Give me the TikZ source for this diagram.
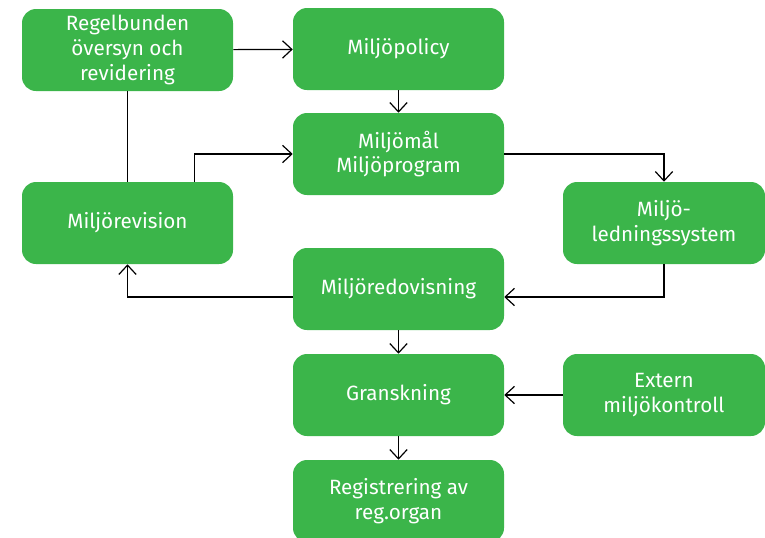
\documentclass[tikz,border=0pt]{standalone}
\usepackage{fontspec}
\setmainfont{Fira Sans}
\usetikzlibrary{arrows.meta}
\definecolor{groen}{HTML}{3BB54A}
\tikzset{
  blok/.style={fill=groen, text=white, rounded corners=10.5pt, minimum width=158.25pt,
    minimum height=61.5pt, align=center, inner sep=0pt, font=\fontsize{15.5}{18.5}\selectfont},
  pijl/.style={-{Straight Barb[length=7pt,width=13pt]}, line width=0.9pt}
}
\begin{document}
\begin{tikzpicture}[x=0.75pt,y=-0.75pt]
    \useasboundingbox (0,0) rectangle (765,537);
    % blokken
    \node[blok] (regel) at (127.5,50) {Regelbunden\\översyn och\\revidering};
    \node[blok] (policy) at (398.5,49) {Miljöpolicy};
    \node[blok] (maal) at (398.5,154) {Miljömål\\Miljöprogram};
    \node[blok] (revisie) at (127.5,223) {Miljörevision};
    \node[blok, minimum width=151.5pt] (systeem) at (664,223) {Miljö-\\ledningssystem};
    \node[blok] (redov) at (398.5,289) {Miljöredovisning};
    \node[blok] (gransk) at (398.5,395) {Granskning};
    \node[blok, minimum width=151.5pt] (extern) at (664,395) {Extern\\miljökontroll};
    \node[blok] (reg) at (398.5,501) {Registrering av\\reg.organ};
    % pijlen
    \draw[pijl] (regel) -- (policy);
    \draw[pijl] (policy) -- (maal);
    \draw[line width=0.9pt] (regel) -- (revisie);
    \draw[pijl] ([xshift=50pt]revisie.north) |- (maal.west);
    \draw[pijl] (maal.east) -| (systeem.north);
    \draw[pijl] (systeem.south) |- ([yshift=-6pt]redov.east);
    \draw[pijl] ([yshift=-6pt]redov.west) -| (revisie.south);
    \draw[pijl] (redov) -- (gransk);
    \draw[pijl] (extern) -- (gransk);
    \draw[pijl] (gransk) -- (reg);
\end{tikzpicture}
\end{document}
